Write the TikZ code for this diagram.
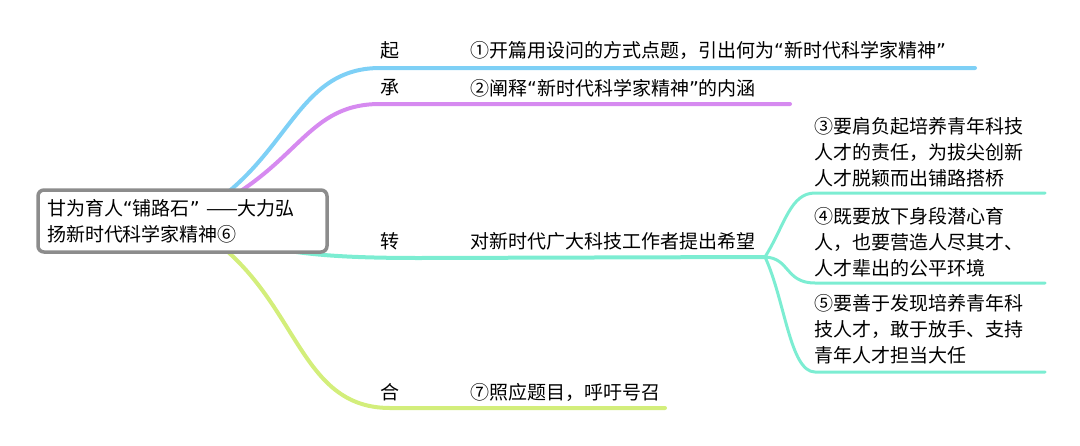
\documentclass[tikz,border=0pt]{standalone}
\usepackage{fontspec}
\setmainfont{Noto Sans CJK SC}
\newfontfamily\quotefont{DejaVu Sans}
\usepackage{tikz}
\usetikzlibrary{backgrounds}
\definecolor{mmblue}{HTML}{7ED0F6}
\definecolor{mmpurple}{HTML}{D68AF0}
\definecolor{mmteal}{HTML}{7CEDD2}
\definecolor{mmlime}{HTML}{D3EE7B}
\definecolor{mmgray}{HTML}{8C8C8C}
\newcommand\mmfont{\fontsize{19pt}{26pt}\selectfont}
\newcommand\mmlq{{\quotefont “}}
\newcommand\mmrq{{\quotefont ”}}

\begin{document}
\begin{tikzpicture}[x=1pt, y=-1pt,
  topic/.style={draw=mmgray, line width=3.5pt, rounded corners=6pt, fill=white,
                minimum height=62pt, inner xsep=9pt, text width=271pt,
                align=left, font=\mmfont},
  tag/.style={font=\mmfont, inner sep=0pt},
  note/.style={font=\mmfont, anchor=west, align=left, inner sep=0pt},
  branch/.style={line width=4pt, line cap=round},
  twig/.style={line width=3pt, line cap=round, draw=mmteal},
]
  \useasboundingbox (0,0) rectangle (1080,445);

  % Central topic -------------------------------------------------------------
  \node[topic] (root) at (182.5,221) {甘为育人\mmlq 铺路石\mmrq{} ——大力弘\\扬新时代科学家精神⑥};

  % Branch points -------------------------------------------------------------
  \coordinate (qiA) at (380,68);     \coordinate (qiB) at (975,68);
  \coordinate (chengA) at (380,104); \coordinate (chengB) at (790,104);
  \coordinate (zhuanA) at (420,258); \coordinate (split) at (765,257);
  \coordinate (heA) at (390,408);    \coordinate (heB) at (665,408);
  \coordinate (s1a) at (815,193); \coordinate (s1b) at (1045,193);
  \coordinate (s2a) at (815,283); \coordinate (s2b) at (1045,283);
  \coordinate (s3a) at (815,372); \coordinate (s3b) at (1045,372);

  \begin{scope}[on background layer]
    \draw[branch, draw=mmblue] (root.center) .. controls (290,170) and (290,68) .. (qiA) -- (qiB);
    \draw[branch, draw=mmpurple] (root.center) .. controls (300,175) and (300,104) .. (chengA) -- (chengB);
    \draw[branch, draw=mmteal] (root.center) .. controls (260,250) and (300,258) .. (zhuanA) -- (split);
    \draw[branch, draw=mmlime] (root.center) .. controls (300,280) and (290,408) .. (heA) -- (heB);
  \end{scope}

  % Sub-branches of 转 ---------------------------------------------------------
  \draw[twig] (split) .. controls (785,225) and (790,193) .. (s1a) -- (s1b);
  \draw[twig] (split) .. controls (790,258) and (785,283) .. (s2a) -- (s2b);
  \draw[twig] (split) .. controls (785,300) and (790,372) .. (s3a) -- (s3b);

  % Labels ------------------------------------------------------------------
  \node[tag] (qi) at (390,50) {起};
  \node[tag] (cheng) at (390,88) {承};
  \node[tag] (zhuan) at (390,241) {转};
  \node[tag] (he) at (390,392) {合};

  \node[note] (qinote) at (470,50) {①开篇用设问的方式点题，引出何为\mmlq 新时代科学家精神\mmrq};
  \node[note] (chengnote) at (470,88) {②阐释\mmlq 新时代科学家精神\mmrq 的内涵};
  \node[note] (zhuannote) at (470,241) {对新时代广大科技工作者提出希望};
  \node[note] (henote) at (470,392) {⑦照应题目，呼吁号召};

  \node[note] (s1note) at (814,152) {③要肩负起培养青年科技\\人才的责任，为拔尖创新\\人才脱颖而出铺路搭桥};
  \node[note] (s2note) at (814,242) {④既要放下身段潜心育\\人，也要营造人尽其才、\\人才辈出的公平环境};
  \node[note] (s3note) at (814,329) {⑤要善于发现培养青年科\\技人才，敢于放手、支持\\青年人才担当大任};
\end{tikzpicture}
\end{document}
